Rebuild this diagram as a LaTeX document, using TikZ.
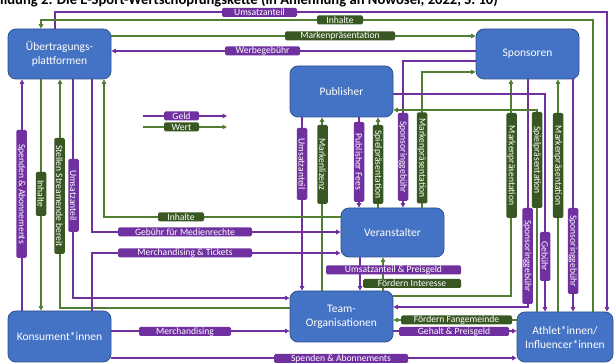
\documentclass[tikz,border=0pt]{standalone}
\usepackage{fontspec}
\setmainfont{Carlito}
\usetikzlibrary{arrows.meta}
\definecolor{boxfill}{HTML}{4472C4}
\definecolor{boxdraw}{HTML}{2F528F}
\definecolor{pl}{HTML}{7030A0}
\definecolor{gln}{HTML}{507E32}
\definecolor{glab}{HTML}{385723}
\begin{document}
\begin{tikzpicture}[x=1pt,y=-1pt,
  box/.style={draw=boxdraw, line width=0.8pt, fill=boxfill, rounded corners=8pt, text=white, font=\fontsize{11.5}{14}\selectfont, align=center, inner sep=0pt},
  pline/.style={draw=pl, line width=1.1pt},
  gline/.style={draw=gln, line width=1.1pt},
  tip/.style={-{Triangle[length=4.5pt,width=4.5pt]}},
  lbl/.style={rounded corners=1.5pt, inner sep=0pt, minimum height=9pt, text=white, font=\fontsize{9.6}{9.6}\selectfont},
  plbl/.style={lbl, fill=pl},
  glbl/.style={lbl, fill=glab},
  vl/.style={rotate=-90, minimum height=10.5pt},
]
\useasboundingbox (0,0) rectangle (614,363);
\fill[white] (0,0) rectangle (614,363);

% title (cropped at the top)
\begin{scope}
\clip (0,0) rectangle (614,363);
\node[anchor=base west, inner sep=0pt, font=\bfseries\fontsize{14.6}{16}\selectfont] (title) at (0,4.5) {\llap{Abb}ildung 2: Die E-Sport-Wertschöpfungskette (in Anlehnung an Nowosel, 2022, S. 10)};
\end{scope}

% boxes
\node[box, minimum width=103pt, minimum height=50pt] (ueb) at (59.5,54) {Übertragungs-\\plattformen};
\node[box, minimum width=103pt, minimum height=50pt] (spo) at (527.5,54) {Sponsoren};
\node[box, minimum width=103pt, minimum height=51pt] (pub) at (341.5,91.5) {Publisher};
\node[box, minimum width=103pt, minimum height=49pt] (ver) at (392.5,232.5) {Veranstalter};
\node[box, minimum width=103pt, minimum height=51pt] (team) at (341.5,316.5) {Team-\\Organisationen};
\node[box, minimum width=103pt, minimum height=51pt] (kon) at (59.5,336.5) {Konsument*innen};
\node[box, minimum width=96pt, minimum height=50pt] (ath) at (565,337) {Athlet*innen/\\Influencer*innen};

% top connectors
\draw[pline,tip] (ueb.north -| 55,0) |- (607,12) -- (ath.north -| 607,0);
\draw[gline,tip] (ath.north -| 593,0) |- (41,20) -- (ueb.north -| 41,0);
\draw[gline,tip] (ueb.east |- 0,36) -- (spo.west |- 0,36);
\draw[pline,tip] (spo.west |- 0,51) -- (ueb.east |- 0,51);
\draw[pline,tip] (spo.west |- 0,61) -| (ver.north -| 403,0);
\draw[gline,tip] (ver.north -| 422,0) |- (spo.west |- 0,72);
\draw[gline,tip] (team.east |- 0,296) -| (spo.south -| 511,0);
\draw[pline,tip] (spo.south -| 528,0) |- (team.east |- 0,307);
\draw[gline,tip] (ath.north -| 558,0) -- (spo.south -| 558,0);
\draw[pline,tip] (spo.south -| 573,0) -- (ath.north -| 573,0);
\draw[pline,tip] (pub.east |- 0,94) -| (ath.north -| 545,0);
\draw[gline,tip] (ath.north -| 537,0) |- (pub.east |- 0,110);

% publisher - veranstalter - team
\draw[pline,tip] (pub.south -| 302,0) -- (team.north -| 302,0);
\draw[gline,tip] (team.north -| 322,0) -- (pub.south -| 322,0);
\draw[pline,tip] (pub.south -| 359,0) -- (ver.north -| 359,0);
\draw[gline,tip] (ver.north -| 378,0) -- (pub.south -| 378,0);
\draw[pline,tip] (ver.south -| 360,0) -- (team.north -| 360,0);
\draw[gline,tip] (team.north -| 383,0) -- (ver.south -| 383,0);

% left side
\draw[pline,tip] (kon.north -| 22,0) -- (ueb.south -| 22,0);
\draw[gline,tip] (ueb.south -| 41,0) -- (kon.north -| 41,0);
\draw[gline,tip] (team.west |- 0,308) -| (ueb.south -| 60,0);
\draw[pline,tip] (ueb.south -| 73,0) |- (team.west |- 0,298);
\draw[pline,tip] (ueb.south -| 92,0) |- (ver.west |- 0,232);
\draw[gline,tip] (ver.west |- 0,217) -| (ueb.south -| 104,0);
\draw[pline,tip] (kon.north -| 92,0) |- (ver.west |- 0,253);
\draw[pline,tip] (kon.east |- 0,331) -- (team.west |- 0,331);
\draw[pline,tip] (kon.east |- 0,358) -- (ath.west |- 0,358);

% team - athlet
\draw[gline,tip] (ath.west |- 0,320) -- (team.east |- 0,320);
\draw[pline,tip] (team.east |- 0,331) -- (ath.west |- 0,331);

% legend
\coordinate (geldA) at (143,116); \coordinate (geldB) at (227,116);
\coordinate (wertA) at (143,127); \coordinate (wertB) at (227,127);
\draw[pline,tip] (geldA) -- (geldB);
\draw[gline,tip] (wertA) -- (wertB);

% horizontal labels
\node[plbl, minimum width=75pt] (lUms1) at (259.5,12.5) {Umsatzanteil};
\node[glbl, minimum width=46pt] (lInh1) at (340,20) {Inhalte};
\node[glbl, minimum width=110pt] (lMark1) at (340,36) {Markenpräsentation};
\node[plbl, minimum width=75pt] (lWerb) at (262.5,51) {Werbegebühr};
\node[plbl, minimum width=35pt] (lGeld) at (181.5,116) {Geld};
\node[glbl, minimum width=35pt] (lWert) at (181.5,127) {Wert};
\node[glbl, minimum width=46pt] (lInh2) at (181,217) {Inhalte};
\node[plbl, minimum width=134pt] (lMed) at (185,232) {Gebühr für Medienrechte};
\node[plbl, minimum width=134pt] (lMT) at (185,253) {Merchandising \& Tickets};
\node[plbl, minimum width=135pt] (lUP) at (393.5,270) {Umsatzanteil \& Preisgeld};
\node[glbl, minimum width=98pt] (lFI) at (412,283.5) {Fördern Interesse};
\node[glbl, minimum width=111pt] (lFF) at (456.5,320) {Fördern Fangemeinde};
\node[plbl, minimum width=110pt] (lGP) at (454,331.5) {Gehalt \& Preisgeld};
\node[plbl, minimum width=92pt] (lMer) at (185,331.5) {Merchandising};
\node[plbl, minimum width=134pt] (lSA2) at (341,358.5) {Spenden \& Abonnements};

% vertical labels
\node[plbl, vl, minimum width=128pt] (vSA) at (21.5,194) {Spenden \& Abonnements};
\node[glbl, vl, minimum width=44pt] (vInh) at (41,194) {Inhalte};
\node[glbl, vl, minimum width=116pt] (vSSB) at (59.5,196) {Stellen Streamende bereit};
\node[plbl, vl, minimum width=73pt] (vUms1) at (73.5,195.5) {Umsatzanteil};
\node[plbl, vl, minimum width=72pt] (vUms2) at (302,164) {Umsatzanteil};
\node[glbl, vl, minimum width=79pt] (vML) at (322.5,164.5) {Markenlizenz};
\node[plbl, vl, minimum width=80pt] (vPF) at (359,162) {Publisher Fees};
\node[glbl, vl, minimum width=79pt] (vSP1) at (378,164.5) {Spielpräsentation};
\node[plbl, vl, minimum width=88pt] (vSG1) at (403,157) {Sponsoringgebühr};
\node[glbl, vl, minimum width=91pt] (vMP1) at (422,158) {Markenpräsentation};
\node[glbl, vl, minimum width=105pt] (vMP2) at (511.5,165.5) {Markenpräsentation};
\node[plbl, vl, minimum width=96pt] (vSG2) at (527.5,256) {Sponsoringgebühr};
\node[glbl, vl, minimum width=96pt] (vSP2) at (537,160) {Spielpräsentation};
\node[plbl, vl, minimum width=49pt] (vGeb) at (545,256.5) {Gebühr};
\node[glbl, vl, minimum width=105pt] (vMP3) at (558,165.5) {Markenpräsentation};
\node[plbl, vl, minimum width=86pt] (vSG3) at (573,251) {Sponsoringgebühr};
\end{tikzpicture}
\end{document}
